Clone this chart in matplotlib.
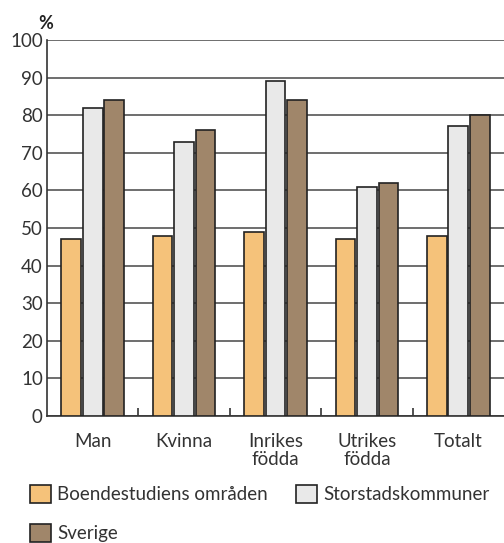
import numpy as np
import matplotlib.pyplot as plt
from matplotlib.ticker import FixedLocator

plt.rcParams['font.family'] = ['Lato', 'DejaVu Sans']

categories = ["Man", "Kvinna", "Inrikes\nfödda", "Utrikes\nfödda", "Totalt"]
boende = [47, 48, 49, 47, 48]
storstad = [82, 73, 89, 61, 77]
sverige = [84, 76, 84, 62, 80]

series = [
    ("Boendestudiens områden", boende, "#F5C27A"),
    ("Storstadskommuner", storstad, "#E9E9E9"),
    ("Sverige", sverige, "#A0866A"),
]

fig = plt.figure(figsize=(5.04, 5.43), dpi=100)
ax = fig.add_axes([0.0933, 0.2339, 0.9067, 0.6924])

x = np.arange(len(categories))
width = 0.215
offset = 0.235
for i, (name, vals, col) in enumerate(series):
    ax.bar(x + (i - 1) * offset, vals, width, color=col, edgecolor="#222222",
           linewidth=1.2, label=name, zorder=3)

ax.set_xlim(-0.5, len(categories) - 0.5)
ax.set_ylim(0, 100)
ax.set_yticks(range(0, 101, 10))
ax.yaxis.grid(True, color="#555555", linewidth=1.2, zorder=0)
ax.tick_params(axis="y", length=0, labelsize=13.5, pad=3, colors="#333333")

ax.set_xticks(x)
ax.set_xticklabels(categories, fontsize=13.5, linespacing=1.1, color="#333333")
ax.tick_params(axis="x", which="major", length=0, pad=12)
ax.xaxis.set_minor_locator(FixedLocator(x[:-1] + 0.5))
ax.tick_params(axis="x", which="minor", direction="in", length=6, width=1.2, color="#333333")

for s in ["top", "right"]:
    ax.spines[s].set_visible(False)
for s in ["left", "bottom"]:
    ax.spines[s].set_color("#333333")
    ax.spines[s].set_linewidth(1.2)

fig.text(0.075, 0.947, "%", fontsize=13, fontweight="bold", color="#222222")

# legend fills column-wise, so reorder to get Boende + Storstad on row one
handles, labels = ax.get_legend_handles_labels()
order = [0, 2, 1]
leg = fig.legend([handles[i] for i in order], [labels[i] for i in order],
                 loc="upper left", bbox_to_anchor=(0.06, 0.107), ncol=2,
                 frameon=False, fontsize=13.5, handlelength=1.1, handleheight=1.1,
                 handletextpad=0.35, columnspacing=1.5, labelspacing=1.1, borderpad=0,
                 borderaxespad=0)
for t in leg.get_texts():
    t.set_color("#333333")

fig.savefig("out.png", dpi=100)
